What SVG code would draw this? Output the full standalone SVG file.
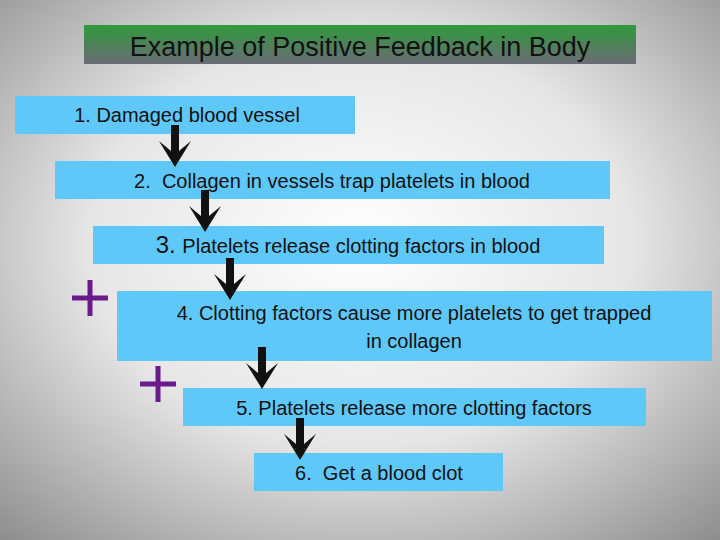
<svg xmlns="http://www.w3.org/2000/svg" width="720" height="540" viewBox="0 0 720 540" font-family="Liberation Sans, Arial, Helvetica, sans-serif">
<defs>
<radialGradient id="bg" cx="0.5" cy="0.45" r="0.75"><stop offset="0" stop-color="#ffffff"/><stop offset="0.5" stop-color="#e6e6e6"/><stop offset="1" stop-color="#8c8c8c"/></radialGradient>
<linearGradient id="tg" x1="0" y1="0" x2="0" y2="1"><stop offset="0" stop-color="#2f9a3a"/><stop offset="1" stop-color="#6b6b78"/></linearGradient>
<path id="arr" d="M-4,0 L4,0 L4,26 L16,16 L0,42 L-16,16 L-4,26 Z" fill="#111"/>
</defs>
<style>
.b{fill:#5ec8f9}
.t{font-size:20px;fill:#111;text-anchor:middle}
.p{stroke:#6a1a8a;stroke-width:5}
</style>
<rect width="720" height="540" fill="url(#bg)"/>
<g id="title"><rect x="84" y="25" width="552" height="39" fill="url(#tg)"/><text x="360" y="56" class="t" font-size="27" style="font-size:27px">Example of Positive Feedback in Body</text></g>
<g id="n1"><rect class="b" x="15" y="96" width="340" height="38"/><text class="t" x="187" y="122">1. Damaged blood vessel</text></g>
<g id="n2"><rect class="b" x="55" y="161" width="555" height="38"/><text class="t" x="332" y="188" xml:space="preserve">2.  Collagen in vessels trap platelets in blood</text></g>
<g id="n3"><rect class="b" x="93" y="226" width="511" height="38"/><text class="t" x="348" y="253"><tspan style="font-size:24px">3. </tspan> Platelets release clotting factors in blood</text></g>
<g id="n4"><rect class="b" x="117" y="291" width="595" height="70"/><text class="t" x="414" y="320">4. Clotting factors cause more platelets to get trapped</text><text class="t" x="414" y="348">in collagen</text></g>
<g id="n5"><rect class="b" x="183" y="388" width="463" height="38"/><text class="t" x="414" y="415">5. Platelets release more clotting factors</text></g>
<g id="n6"><rect class="b" x="254" y="453" width="249" height="38"/><text class="t" x="379" y="480" xml:space="preserve">6.  Get a blood clot</text></g>
<g id="plus"><path class="p" d="M72,298 H108 M90,280 V316 M140,384 H176 M158,366 V402"/></g>
<g id="connectors">
<use href="#arr" x="175" y="125"/>
<use href="#arr" x="205" y="190"/>
<use href="#arr" x="230" y="258"/>
<use href="#arr" x="262" y="347"/>
<use href="#arr" x="300" y="418"/>
</g>
</svg>
